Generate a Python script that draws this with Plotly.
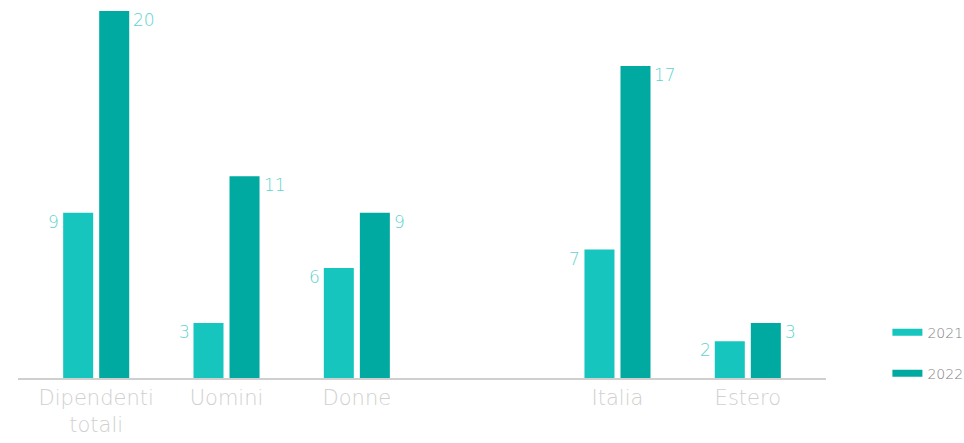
import plotly.graph_objects as go

categories = ["Dipendenti<br>totali", "Uomini", "Donne", " ", "Italia", "Estero"]
series_names = ["2021", "2022"]
values_2021 = [9, 3, 6, None, 7, 2]
values_2022 = [20, 11, 9, None, 17, 3]

colors = ["#17C5BF", "#00AAA0"]
label_color = "#5ED3CD"
font_family = "'DejaVu Sans', sans-serif"

fig = go.Figure()
for name, vals, col in zip(series_names, [values_2021, values_2022], colors):
    fig.add_trace(go.Bar(x=categories, y=vals, name=name, marker_color=col,
                         marker_line_width=0, showlegend=False))
    fig.add_trace(go.Scatter(x=[None], y=[None], mode="lines", name=name,
                             line=dict(color=col, width=7), legendgroup=name,
                             showlegend=True))

annotations = []
for cat, v in zip(categories, values_2021):
    if v is None:
        continue
    annotations.append(dict(x=cat, y=v, text=str(v), showarrow=False, xanchor="right",
                            yanchor="top", xshift=-35, yshift=3,
                            font=dict(size=17, color=label_color, family=font_family, weight=200)))
for cat, v in zip(categories, values_2022):
    if v is None:
        continue
    annotations.append(dict(x=cat, y=v, text=str(v), showarrow=False, xanchor="left",
                            yanchor="top", xshift=35, yshift=3,
                            font=dict(size=17, color=label_color, family=font_family, weight=200)))

fig.update_layout(
    width=964, height=443,
    margin=dict(l=18, r=138, t=11, b=65, autoexpand=False),
    paper_bgcolor="white", plot_bgcolor="white",
    barmode="group", bargap=0.447, bargroupgap=0.167,
    font=dict(family=font_family),
    xaxis=dict(type="category", range=[-0.6, 5.6], showgrid=False, automargin=False,
               showline=True, linecolor="#CFCFCF", linewidth=1.5,
               ticks="", tickfont=dict(size=21, color="#D0D0D0", family=font_family, weight=200)),
    yaxis=dict(range=[0, 20], visible=False, showgrid=False, zeroline=False, automargin=False),
    legend=dict(x=1.076, y=0.068, xanchor="left", yanchor="middle",
                font=dict(size=14, color="#808080", family=font_family, weight=200),
                tracegroupgap=20, itemwidth=30, bgcolor="rgba(0,0,0,0)"),
    annotations=annotations,
)

fig.write_html("out.html")
